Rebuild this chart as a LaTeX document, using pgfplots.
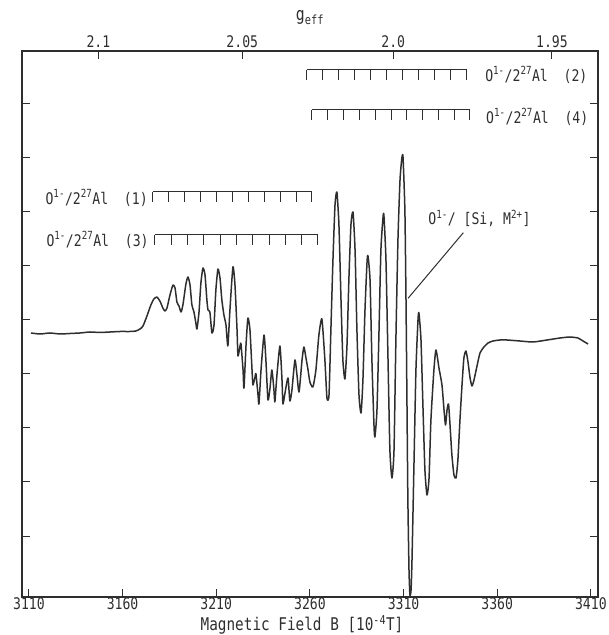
\documentclass[border=0pt]{standalone}
\usepackage{pgfplots}
\pgfplotsset{compat=1.18}
\usepackage{fontspec}
\setmainfont{DejaVu Sans Mono}[FakeStretch=0.82]
\definecolor{ink}{gray}{0.18}
\begin{document}
\begin{tikzpicture}[font=\fontsize{16bp}{19bp}\selectfont, color=ink]
\pgfplotsset{every axis/.append style={
  width=576bp, height=546bp, scale only axis,
  xmin=3106.3, xmax=3413.8, ymin=0, ymax=546,
  /pgf/number format/assume math mode=true,
  tick align=inside, major tick length=8bp,
  axis line style={line width=1.2bp, ink},
  every tick/.style={line width=1bp, ink},
}}
\begin{axis}[
  xtick={3110,3160,3210,3260,3310,3360,3410},
  xticklabel style={/pgf/number format/1000 sep={}, yshift=3bp},
  ytick={61,115,169,223,277,331,385,439,493}, yticklabels={},
  xtick pos=bottom, ytick pos=both,
  xlabel={\fontsize{17.5bp}{20bp}\selectfont Magnetic Field B [10\textsuperscript{-4}T]},
  xlabel style={yshift=1bp, xshift=-8bp},
]
\addplot[ink, line width=1.5bp, line join=round, smooth, tension=0.35] coordinates {
(3111.1,264) (3115.9,263) (3121.2,264) (3126.6,263) (3131.9,263.5) (3137.2,264) (3142.6,265) (3147.9,264.5)
(3153.2,265) (3158.6,265.5) (3163.9,265.5) (3167.1,266) (3169.3,268) (3170.9,271) (3173.0,281) (3175.1,292)
(3176.7,298) (3178.3,300) (3179.9,296) (3181.5,289) (3182.6,286) (3183.7,289) (3185.3,302) (3186.9,312)
(3188.0,309) (3189.0,295) (3190.1,291) (3191.2,285) (3192.2,292) (3193.8,313) (3194.9,320) (3196.0,312)
(3197.0,292) (3198.1,285) (3199.2,273) (3199.7,268) (3200.8,285) (3201.8,314) (3202.9,329) (3204.0,322)
(3205.0,297) (3205.6,287) (3206.6,285) (3207.7,264) (3208.8,272) (3209.8,307) (3210.9,328) (3212.0,319)
(3213.0,297) (3214.1,282) (3215.2,272) (3216.2,251) (3217.3,287) (3218.9,330) (3220.0,312) (3221.1,267)
(3221.6,241) (3222.7,251) (3223.2,253) (3224.3,227) (3224.8,209) (3225.9,252) (3226.9,279) (3228.0,267)
(3229.1,227) (3229.6,212) (3230.7,220) (3231.2,223) (3232.3,202) (3232.8,193) (3233.9,227) (3235.5,262)
(3236.5,237) (3237.6,197) (3238.7,209) (3239.7,227) (3240.8,207) (3241.3,195) (3242.4,222) (3244.0,251)
(3245.1,217) (3245.6,193) (3246.7,204) (3248.3,219) (3249.3,196) (3250.4,207) (3252.0,237) (3253.1,222)
(3254.2,205) (3255.8,237) (3256.8,250) (3257.9,239) (3259.0,227) (3260.0,215) (3261.6,210) (3263.2,227)
(3264.8,262) (3266.4,278) (3268.0,237) (3269.1,199) (3270.2,202) (3271.2,267) (3272.3,337) (3273.4,392)
(3274.4,405) (3275.5,372) (3276.6,297) (3277.6,237) (3278.7,218) (3279.8,252) (3280.8,317) (3281.9,372)
(3283.0,385) (3284.1,347) (3285.1,267) (3286.2,202) (3287.3,184) (3288.3,217) (3289.4,287) (3290.5,335)
(3291.0,341) (3292.1,317) (3293.1,237) (3294.2,172) (3294.7,160) (3295.8,187) (3296.9,267) (3297.9,347)
(3299.0,379) (3299.5,382) (3300.6,337) (3301.7,237) (3302.7,147) (3303.8,119) (3304.9,147) (3305.9,257)
(3307.0,357) (3308.1,417) (3309.1,439) (3309.7,440) (3310.7,387) (3311.3,297) (3311.8,197) (3312.3,97)
(3312.9,27) (3313.4,2) (3314.0,7) (3314.5,37) (3315.6,137) (3316.6,227) (3317.7,277) (3318.2,284)
(3319.3,257) (3320.4,187) (3321.4,127) (3322.5,102) (3323.6,119) (3324.6,177) (3326.2,227) (3327.3,247)
(3328.9,229) (3330.5,212) (3331.6,187) (3332.4,172) (3333.2,187) (3334.0,193) (3334.8,172) (3335.8,142)
(3336.9,122) (3338.0,119) (3339.0,137) (3340.1,177) (3341.2,212) (3342.2,239) (3343.3,246) (3344.4,235)
(3345.5,219) (3346.5,211) (3347.6,217) (3349.2,231) (3350.8,244) (3352.9,250) (3355.1,254) (3357.7,256)
(3361.5,257) (3365.2,257) (3372.1,256) (3379.1,255) (3386.6,257) (3393.5,259) (3398.8,260) (3403.1,259)
(3405.8,256) (3408.5,253)
};
% combs
\draw[line width=1bp] (axis cs:3258.4,527) -- (axis cs:3343.8,527);
\pgfplotsinvokeforeach{3258.4,3266.9,3275.5,3284.0,3292.6,3301.1,3309.6,3318.2,3326.7,3335.3,3343.8}{
  \draw[line width=1bp] (axis cs:#1,527) -- (axis cs:#1,517);}
\draw[line width=1bp] (axis cs:3261.1,487) -- (axis cs:3345.4,487);
\pgfplotsinvokeforeach{3261.1,3269.5,3278.0,3286.4,3294.8,3303.3,3311.7,3320.1,3328.5,3337.0,3345.4}{
  \draw[line width=1bp] (axis cs:#1,487) -- (axis cs:#1,477);}
\draw[line width=1bp] (axis cs:3176.2,405) -- (axis cs:3261.1,405);
\pgfplotsinvokeforeach{3176.2,3184.7,3193.2,3201.7,3210.2,3218.7,3227.1,3235.6,3244.1,3252.6,3261.1}{
  \draw[line width=1bp] (axis cs:#1,405) -- (axis cs:#1,395);}
\draw[line width=1bp] (axis cs:3177.3,362) -- (axis cs:3264.3,362);
\pgfplotsinvokeforeach{3177.3,3186.0,3194.7,3203.4,3212.1,3220.8,3229.5,3238.2,3246.9,3255.6,3264.3}{
  \draw[line width=1bp] (axis cs:#1,362) -- (axis cs:#1,352);}
\node[anchor=west, inner sep=0pt] at (axis cs:3353.5,522) {O\textsuperscript{1-}/2\textsuperscript{27}Al\ \ (2)};
\node[anchor=west, inner sep=0pt] at (axis cs:3354.0,480) {O\textsuperscript{1-}/2\textsuperscript{27}Al\ \ (4)};
\node[anchor=east, inner sep=0pt] at (axis cs:3173.5,399) {O\textsuperscript{1-}/2\textsuperscript{27}Al\ \ (1)};
\node[anchor=east, inner sep=0pt] at (axis cs:3174.0,357) {O\textsuperscript{1-}/2\textsuperscript{27}Al\ \ (3)};
\node[inner sep=0pt] at (axis cs:3350.5,378.5) {O\textsuperscript{1-}/ [Si, M\textsuperscript{2+}]};
\draw[line width=1bp] (axis cs:3312.4,298.7) -- (axis cs:3341.9,364.3);
\end{axis}
\begin{axis}[
  axis x line*=top, axis y line=none,
  xtick={3147.1,3223.9,3304.5,3389.2},
  xticklabels={2.1,2.05,2.0,1.95},
  xlabel={\fontsize{18bp}{20bp}\selectfont g\textsubscript{eff}},
  xlabel style={yshift=4bp},
]
\addplot[draw=none] coordinates {(3200,100)};
\end{axis}
\pgfresetboundingbox
\path[use as bounding box] ([shift={(-22bp,-38bp)}]current axis.south west) rectangle ([shift={(11bp,51bp)}]current axis.north east);
\end{tikzpicture}
\end{document}
